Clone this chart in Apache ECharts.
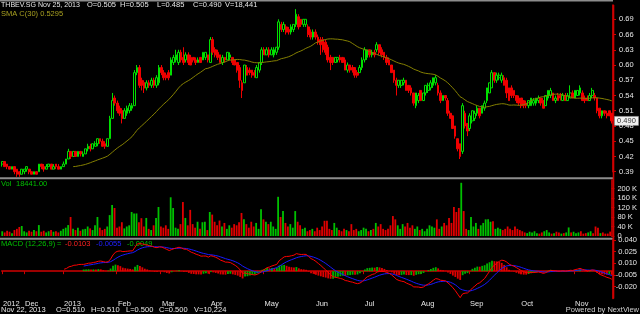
<!DOCTYPE html>
<html><head><meta charset="utf-8">
<script src="https://cdn.jsdelivr.net/npm/echarts@6/dist/echarts.min.js"></script>
<style>html,body{margin:0;padding:0;background:#000;}#c{width:640px;height:314px;}</style>
</head><body><div id="c"></div>
<script>
// ---- data ----
const opens = [
.405,.410,.405,.400,.395,.400,.395,.390,.385,.390,
.395,.395,.390,.385,.390,.390,.405,.400,.395,.400,
.405,.395,.405,.400,.395,.400,.405,.415,.430,.420,
.430,.420,.430,.420,.425,.435,.440,.435,.440,.445,
.455,.450,.445,.440,.455,.495,.535,.525,.515,.510,
.495,.505,.510,.515,.520,.585,.595,.570,.565,.555,
.565,.560,.570,.560,.565,.595,.585,.580,.585,.580,
.605,.610,.605,.625,.615,.610,.620,.615,.615,.610,
.605,.615,.610,.615,.620,.605,.650,.630,.625,.620,
.605,.615,.610,.615,.615,.610,.605,.595,.565,.565,
.595,.590,.590,.585,.575,.590,.605,.630,.620,.630,
.620,.620,.625,.635,.680,.670,.675,.670,.665,.670,
.680,.695,.690,.680,.680,.675,.665,.655,.665,.655,
.650,.650,.645,.635,.615,.615,.605,.610,.615,.615,
.610,.590,.600,.595,.595,.585,.585,.595,.610,.615,
.630,.620,.625,.630,.640,.630,.625,.615,.610,.600,
.590,.570,.560,.560,.565,.570,.560,.555,.545,.520,
.530,.550,.530,.545,.550,.555,.560,.565,.560,.545,
.530,.540,.530,.505,.500,.480,.455,.445,.430,.505,
.485,.475,.490,.495,.505,.515,.505,.515,.530,.545,
.555,.585,.570,.575,.570,.575,.570,.555,.555,.550,
.540,.535,.535,.530,.525,.520,.520,.525,.525,.530,
.535,.530,.520,.535,.540,.545,.530,.540,.540,.530,
.540,.530,.535,.545,.535,.540,.545,.545,.535,.535,
.530,.540,.540,.535,.515,.500,.510,.505,.510,.505];
const closes = [
.410,.400,.400,.395,.400,.390,.385,.385,.395,.395,
.400,.390,.385,.390,.385,.405,.400,.395,.400,.405,
.395,.400,.400,.395,.400,.405,.415,.430,.420,.430,
.420,.430,.425,.425,.435,.440,.435,.445,.445,.455,
.450,.440,.440,.455,.495,.530,.525,.510,.505,.495,
.510,.515,.520,.520,.585,.595,.560,.560,.555,.565,
.560,.570,.560,.575,.595,.585,.575,.575,.575,.610,
.615,.620,.625,.610,.605,.620,.605,.600,.610,.605,
.610,.605,.625,.625,.610,.650,.625,.620,.615,.605,
.615,.610,.625,.620,.605,.600,.590,.570,.550,.600,
.580,.585,.580,.580,.595,.605,.630,.620,.630,.620,
.630,.630,.635,.685,.670,.680,.665,.665,.675,.680,
.700,.675,.680,.690,.690,.660,.655,.665,.655,.645,
.640,.630,.625,.610,.605,.605,.615,.615,.610,.605,
.590,.600,.590,.590,.580,.580,.595,.610,.630,.630,
.620,.625,.620,.640,.625,.620,.615,.605,.600,.585,
.570,.560,.570,.570,.570,.550,.550,.545,.525,.545,
.540,.530,.545,.560,.560,.565,.575,.575,.545,.530,
.540,.535,.505,.495,.475,.460,.435,.420,.520,.480,
.470,.500,.510,.505,.515,.500,.520,.525,.555,.565,
.585,.570,.580,.580,.580,.560,.545,.530,.540,.540,
.530,.525,.520,.520,.520,.530,.535,.530,.535,.535,
.525,.515,.540,.550,.550,.530,.535,.530,.535,.540,
.530,.540,.545,.535,.550,.550,.555,.530,.530,.530,
.540,.550,.535,.510,.500,.510,.505,.500,.500,.490];
const lows = [
.400,.400,.395,.395,.395,.385,.380,.380,.385,.385,
.390,.385,.385,.385,.385,.390,.395,.390,.395,.400,
.395,.395,.395,.395,.395,.400,.405,.415,.415,.420,
.420,.420,.420,.420,.425,.430,.430,.435,.440,.440,
.445,.440,.435,.440,.455,.495,.520,.505,.500,.485,
.495,.500,.505,.510,.520,.580,.555,.550,.545,.550,
.555,.555,.555,.555,.560,.580,.570,.570,.570,.580,
.600,.605,.600,.605,.600,.605,.600,.600,.605,.600,
.605,.605,.610,.610,.605,.605,.620,.615,.610,.605,
.600,.605,.610,.610,.600,.600,.585,.555,.535,.565,
.580,.580,.575,.575,.575,.585,.600,.620,.620,.615,
.620,.615,.620,.630,.665,.665,.660,.660,.660,.665,
.675,.670,.675,.675,.675,.655,.650,.650,.650,.640,
.620,.625,.620,.605,.590,.600,.605,.605,.605,.605,
.590,.585,.585,.585,.575,.575,.585,.590,.605,.610,
.615,.615,.615,.625,.620,.615,.610,.600,.600,.585,
.565,.540,.555,.555,.560,.550,.545,.540,.520,.515,
.525,.530,.530,.540,.545,.550,.555,.560,.540,.525,
.530,.530,.500,.495,.475,.455,.430,.415,.425,.475,
.460,.470,.485,.490,.500,.495,.505,.510,.525,.545,
.555,.565,.565,.570,.565,.560,.535,.530,.535,.535,
.525,.520,.515,.515,.515,.515,.520,.520,.520,.525,
.520,.515,.520,.530,.535,.530,.525,.530,.530,.530,
.530,.530,.535,.535,.535,.540,.540,.530,.525,.530,
.530,.535,.530,.505,.495,.495,.500,.495,.500,.485];
const highs = [
.410,.410,.405,.400,.400,.400,.395,.390,.395,.395,
.400,.395,.390,.390,.390,.405,.405,.405,.405,.405,
.405,.405,.405,.405,.400,.410,.415,.435,.430,.430,
.430,.430,.430,.430,.435,.445,.445,.445,.450,.455,
.455,.455,.450,.455,.500,.545,.540,.530,.520,.515,
.515,.520,.525,.525,.590,.600,.600,.575,.570,.570,
.570,.575,.575,.580,.600,.600,.590,.585,.590,.615,
.620,.630,.630,.630,.635,.625,.625,.620,.615,.615,
.615,.615,.625,.625,.620,.655,.655,.635,.630,.620,
.620,.615,.625,.625,.615,.610,.605,.600,.570,.600,
.600,.595,.590,.590,.600,.605,.635,.635,.635,.635,
.635,.635,.635,.690,.685,.685,.680,.675,.680,.680,
.710,.700,.690,.690,.690,.680,.670,.670,.670,.660,
.655,.655,.650,.640,.620,.615,.615,.615,.620,.615,
.615,.605,.600,.600,.595,.590,.600,.615,.635,.630,
.630,.630,.630,.645,.640,.635,.625,.620,.615,.600,
.590,.575,.570,.570,.575,.570,.560,.560,.545,.545,
.545,.550,.545,.560,.565,.570,.575,.580,.565,.550,
.540,.540,.535,.510,.500,.480,.455,.445,.525,.510,
.485,.505,.510,.510,.520,.515,.520,.530,.555,.565,
.590,.585,.585,.585,.585,.580,.575,.555,.560,.550,
.540,.540,.535,.530,.530,.530,.535,.535,.535,.540,
.535,.535,.540,.550,.555,.545,.540,.545,.545,.545,
.545,.545,.560,.550,.550,.550,.560,.550,.540,.540,
.545,.555,.545,.535,.515,.510,.510,.510,.510,.505];
const volumes = [
20000,15000,22000,18000,12000,25000,30000,38000,42000,20000,
15000,22000,18000,25000,20000,46000,18000,22000,15000,20000,
25000,18000,20000,15000,22000,30000,35000,46000,80000,30000,
25000,35000,22000,28000,30000,40000,32000,25000,45000,80000,
35000,25000,30000,40000,88000,130000,118000,35000,40000,58000,
32000,40000,45000,101000,95000,95000,58000,75000,40000,76000,
30000,25000,45000,76000,122000,40000,35000,45000,30000,163000,
118000,35000,30000,50000,143000,76000,45000,110000,50000,35000,
60000,30000,58000,60000,25000,101000,90000,60000,45000,65000,
40000,55000,30000,45000,35000,50000,45000,58000,97000,70000,
50000,35000,60000,40000,55000,30000,113000,70000,60000,50000,
60000,40000,30000,165000,80000,105000,55000,40000,50000,35000,
105000,60000,45000,30000,35000,20000,25000,30000,20000,35000,
25000,40000,64000,64000,30000,25000,55000,35000,25000,20000,
30000,25000,20000,50000,25000,30000,20000,25000,35000,30000,
20000,25000,30000,55000,40000,50000,30000,25000,30000,45000,
84000,70000,45000,30000,50000,40000,55000,35000,45000,30000,
40000,25000,30000,20000,30000,45000,40000,35000,70000,30000,
40000,55000,45000,76000,55000,122000,101000,118000,224000,105000,
30000,25000,80000,40000,55000,30000,45000,55000,70000,70000,
60000,62000,30000,35000,30000,25000,30000,40000,30000,25000,
40000,30000,25000,20000,15000,12000,18000,15000,20000,12000,
10000,15000,20000,25000,15000,10000,12000,18000,15000,10000,
12000,15000,36000,15000,18000,12000,15000,20000,10000,12000,
15000,20000,12000,40000,35000,12000,15000,10000,10224,18441];
// month ticks on the time axis (category index -> label)
const tickIndex = [0, 9, 25, 47, 65, 85, 107, 128, 148, 171, 191, 212, 234];
const tickText  = ['2012','Dec','2013','Feb','Mar','Apr','May','Jun','Jul','Aug','Sep','Oct','Nov'];
// legend numbers shown in the reference
const smaLegend = '0.5295';
const macdLegend = ['-0.0103', '-0.0055', '-0.0049'];
const lastDate = 'Nov 25, 2013', prevDate = 'Nov 22, 2013';

// ---- derived indicators ----
const N = closes.length;
const cats = closes.map((c, i) => { const k = tickIndex.indexOf(i); return k >= 0 ? tickText[k] : ''; });
function sma(arr, n) { return arr.map((v, i) => { if (i < n - 1) return null; let s = 0; for (let j = i - n + 1; j <= i; j++) s += arr[j]; return s / n; }); }
function ema(arr, n, start) {
  const out = new Array(arr.length).fill(null);
  let s = 0; for (let i = start; i < start + n; i++) s += arr[i];
  let e = s / n; out[start + n - 1] = e; const k = 2 / (n + 1);
  for (let i = start + n; i < arr.length; i++) { e = arr[i] * k + e * (1 - k); out[i] = e; }
  return out;
}
const sma30 = sma(closes, 30);
const e12 = ema(closes, 12, 0), e26 = ema(closes, 26, 0);
const macd = closes.map((c, i) => (e26[i] == null ? null : e12[i] - e26[i]));
const sig = ema(macd.map(v => v == null ? 0 : v), 9, 25).map((v, i) => i < 33 ? null : v);
const hist = macd.map((m, i) => (sig[i] == null ? null : m - sig[i]));

const GREEN = '#00e000', RED = '#f00000';
const candleData = opens.map((o, i) => [o, closes[i], lows[i], highs[i]]);
const volData = volumes.map((v, i) => ({ value: v, itemStyle: { color: closes[i] >= opens[i] ? '#00c000' : '#e00000' } }));
const histData = hist.map((h, i) => h == null ? null : ({ value: h, itemStyle: { color: (i > 0 && hist[i - 1] != null && h < hist[i - 1]) ? '#e00000' : '#00b000' } }));

function f3(v) { return v.toFixed(3); }
function commas(v) { return String(Math.round(v)).replace(/\B(?=(\d{3})+(?!\d))/g, ','); }

const FONT = '7.5px "Liberation Sans", Arial, sans-serif';
const WHITE = '#e6e6e6';
function txt(x, y, text, fill, align, sx) {
  return { type: 'text', x: x, y: y, scaleX: sx || 1, silent: true, style: { text: text, fill: fill || WHITE, font: FONT, verticalAlign: 'middle', align: align || 'left' } };
}
const L = N - 1, P = N - 2;
const graphics = [
  { type: 'rect', silent: true, shape: { x: 0, y: 0, width: 613, height: 1.5 }, style: { fill: '#8c8c8c' } },
  { type: 'rect', silent: true, shape: { x: 0, y: 177.3, width: 613, height: 2 }, style: { fill: '#8c8c8c' } },
  { type: 'rect', silent: true, shape: { x: 0, y: 237.7, width: 613, height: 2 }, style: { fill: '#8c8c8c' } },
  { type: 'line', silent: true, shape: { x1: 613.5, y1: 5, x2: 613.5, y2: 298.5 }, style: { stroke: '#d00000', lineWidth: 1.6 } },
  txt(1, 5, 'THBEV.SG ' + lastDate, null, null, 0.94),
  txt(87, 5, 'O=' + f3(opens[L])), txt(120, 5, 'H=' + f3(highs[L])), txt(157, 5, 'L=' + f3(lows[L])),
  txt(193, 5, 'C=' + f3(closes[L])), txt(225, 5, 'V=' + commas(volumes[L])),
  txt(1, 14, 'SMA C(30) ' + smaLegend, '#a8a020'),
  txt(1, 183.5, 'Vol', '#00c000'), txt(16, 183.5, volumes[L].toFixed(2), '#00c000'),
  txt(1, 243.5, 'MACD (12,26,9)', '#00c000'), txt(57, 243.5, '=', '#00c000'),
  txt(65, 243.5, macdLegend[0], '#ff2020'), txt(96, 243.5, macdLegend[1], '#2020ff'), txt(127, 243.5, macdLegend[2], '#00c000'),
  txt(1, 309.5, prevDate), txt(56, 309.5, 'O=' + f3(opens[P])), txt(91, 309.5, 'H=' + f3(highs[P])),
  txt(126, 309.5, 'L=' + f3(lows[P])), txt(159, 309.5, 'C=' + f3(closes[P])), txt(194, 309.5, 'V=' + commas(volumes[P])),
  txt(639, 309.5, 'Powered by NextView', '#d0d0d0', 'right')
];

const axisLineRed = { show: true, lineStyle: { color: '#d00000', width: 1.6 } };
const tickRed = { show: true, length: 3, lineStyle: { color: '#d00000' } };
const lbl = { color: WHITE, fontSize: 7.5, fontFamily: 'Liberation Sans' };

const chart = echarts.init(document.getElementById('c'), null, { renderer: 'canvas' });
const option = {
  backgroundColor: '#000',
  animation: false,
  grid: [
    { left: 1, width: 612, top: 5, height: 166.7 },
    { left: 1, width: 612, top: 180, height: 56 },
    { left: 1, width: 612, top: 239, height: 59.4 }
  ],
  xAxis: [
    { type: 'category', gridIndex: 0, data: cats, show: false, boundaryGap: true },
    { type: 'category', gridIndex: 1, data: cats, show: false, boundaryGap: true },
    { type: 'category', gridIndex: 2, data: cats, boundaryGap: true,
      axisLine: axisLineRed,
      axisTick: { show: true, length: 3, lineStyle: { color: '#d00000' }, interval: (i) => tickIndex.includes(i) },
      axisLabel: Object.assign({}, lbl, { interval: (i) => tickIndex.includes(i), align: 'left', margin: 2 }),
      splitLine: { show: false } }
  ],
  yAxis: [
    { type: 'value', gridIndex: 0, position: 'right', min: 0.39, max: 0.71815, interval: 0.03, scale: true,
      axisLine: axisLineRed, axisTick: tickRed, splitLine: { show: false },
      axisLabel: Object.assign({}, lbl, { margin: 6, showMaxLabel: false, formatter: v => v.toFixed(2) }) },
    { type: 'value', gridIndex: 1, position: 'right', min: 0, max: 235789, interval: 40000,
      axisLine: axisLineRed, axisTick: tickRed, splitLine: { show: false },
      axisLabel: Object.assign({}, lbl, { margin: 6, showMaxLabel: false, formatter: v => v === 0 ? '0' : Math.round(v / 1000) + ' K' }) },
    { type: 'value', gridIndex: 2, position: 'right', min: -0.035, max: 0.04135, interval: 0.015,
      axisLine: axisLineRed, axisTick: tickRed, splitLine: { show: false },
      axisLabel: Object.assign({}, lbl, { margin: 24, align: 'right', showMaxLabel: false, showMinLabel: false, formatter: v => v.toFixed(3) }) }
  ],
  series: [
    { type: 'candlestick', xAxisIndex: 0, yAxisIndex: 0, data: candleData, barWidth: 2.2, clip: false,
      itemStyle: { color: '#000000', color0: RED, borderColor: GREEN, borderColor0: RED, borderWidth: 1 } },
    { type: 'line', xAxisIndex: 0, yAxisIndex: 0, data: sma30, symbol: 'none', lineStyle: { color: '#858000', width: 1 } },
    { type: 'bar', xAxisIndex: 1, yAxisIndex: 1, data: volData, barWidth: 1.8 },
    { type: 'bar', xAxisIndex: 2, yAxisIndex: 2, data: histData, barWidth: 1.8 },
    { type: 'line', xAxisIndex: 2, yAxisIndex: 2, data: sig, symbol: 'none', lineStyle: { color: '#1a1aff', width: 1 }, clip: false },
    { type: 'line', xAxisIndex: 2, yAxisIndex: 2, data: macd, symbol: 'none', lineStyle: { color: '#ff0000', width: 1 }, clip: false }
  ],
  graphic: graphics
};
chart.setOption(option);
// current-price tag on the price axis, positioned through the library's scale
const yTag = chart.convertToPixel({ yAxisIndex: 0 }, closes[L]);
graphics.push({ type: 'rect', silent: true, shape: { x: 614.5, y: yTag - 4.5, width: 24, height: 9 }, style: { fill: '#f0f0f0', stroke: '#999', lineWidth: 0.5 } });
graphics.push({ type: 'text', x: 626.5, y: yTag, silent: true, style: { text: f3(closes[L]), fill: '#333', font: FONT, align: 'center', verticalAlign: 'middle' } });
chart.setOption({ graphic: graphics });
</script>
</body></html>
